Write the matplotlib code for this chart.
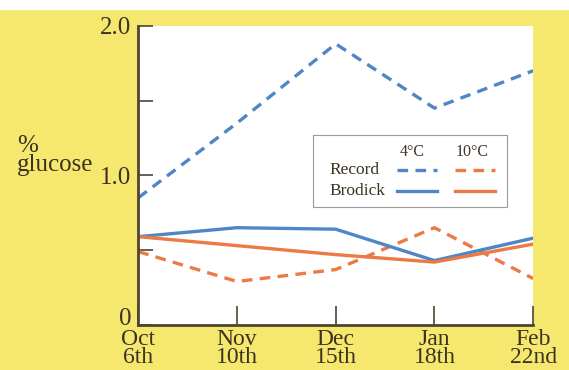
import matplotlib
matplotlib.use("Agg")
import matplotlib.pyplot as plt
from matplotlib.lines import Line2D

months = ["Oct\n6th", "Nov\n10th", "Dec\n15th", "Jan\n18th", "Feb\n22nd"]
record_4c = [0.85, 1.35, 1.88, 1.45, 1.70]
record_10c = [0.49, 0.29, 0.37, 0.65, 0.31]
brodick_4c = [0.59, 0.65, 0.64, 0.43, 0.58]
brodick_10c = [0.59, 0.53, 0.47, 0.42, 0.54]

BLUE = "#4f86c6"
ORANGE = "#ec7a45"
YELLOW = "#f6e86e"
AX = "#4e4632"
TXT = "#3b3322"

plt.rcParams["font.family"] = ["Liberation Serif", "DejaVu Serif"]

fig = plt.figure(figsize=(5.69, 3.70), dpi=100)
fig.patch.set_facecolor(YELLOW)
fig.patches.append(plt.Rectangle((0, 0.975), 1, 0.025, transform=fig.transFigure,
                                  color="white", zorder=0))
ax = fig.add_axes([0.243, 0.122, 0.694, 0.808])
ax.set_facecolor("white")
x = list(range(len(months)))
ax.plot(x, record_4c, color=BLUE, lw=2.4, ls=(0, (3.2, 2.2)))
ax.plot(x, record_10c, color=ORANGE, lw=2.4, ls=(0, (3.2, 2.2)))
ax.plot(x, brodick_4c, color=BLUE, lw=2.4)
ax.plot(x, brodick_10c, color=ORANGE, lw=2.4)

ax.set_xlim(0, 4)
ax.set_ylim(0, 2.0)
ax.set_xticks(x)
ax.set_xticklabels(months, fontsize=17, color=TXT, linespacing=0.82, va="top")
ax.set_yticks([0, 0.5, 1.0, 1.5, 2.0])
ax.set_yticklabels(["0", "", "1.0", "", "2.0"], fontsize=18, color=TXT)
ax.tick_params(axis="x", direction="in", length=14, width=1.2, color=AX, pad=3)
ax.tick_params(axis="y", direction="in", length=11, width=1.2, color=AX, pad=5)
for lbl in ax.get_yticklabels():
    if lbl.get_text() == "0":
        lbl.set_va("baseline")
for s in ["top", "right"]:
    ax.spines[s].set_visible(False)
for s in ["left", "bottom"]:
    ax.spines[s].set_color(AX)
    ax.spines[s].set_linewidth(2)

fig.text(0.03, 0.58, "%\nglucose", fontsize=18, color=TXT, ha="left", va="center",
         linespacing=0.8)

W, H = 569, 370
def fx(px): return px / W
def fy(py): return 1 - py / H
lx0, ly0, lx1, ly1 = 313, 135, 507, 207
box = plt.Rectangle((fx(lx0), fy(ly1)), fx(lx1) - fx(lx0), fy(ly0) - fy(ly1),
                    transform=fig.transFigure, facecolor="white", edgecolor="#9a9a9a", lw=0.8)
fig.patches.append(box)
fig.text(fx(412), fy(152), "4°C", fontsize=11.5, color=TXT, ha="center", va="center")
fig.text(fx(472), fy(152), "10°C", fontsize=11.5, color=TXT, ha="center", va="center")
fig.text(fx(329), fy(170), "Record", fontsize=12.5, color=TXT, ha="left", va="center")
fig.text(fx(329), fy(191), "Brodick", fontsize=12.5, color=TXT, ha="left", va="center")
for (xa, xb, y, c, ls) in [(397, 437, 170, BLUE, (0, (3.2, 2.2))), (455, 495, 170, ORANGE, (0, (3.2, 2.2))),
                           (397, 437, 191, BLUE, "-"), (455, 495, 191, ORANGE, "-")]:
    fig.lines.append(Line2D([fx(xa), fx(xb)], [fy(y), fy(y)], transform=fig.transFigure,
                            color=c, lw=2.4, ls=ls))

fig.savefig("out.png", dpi=100, facecolor=fig.get_facecolor())
